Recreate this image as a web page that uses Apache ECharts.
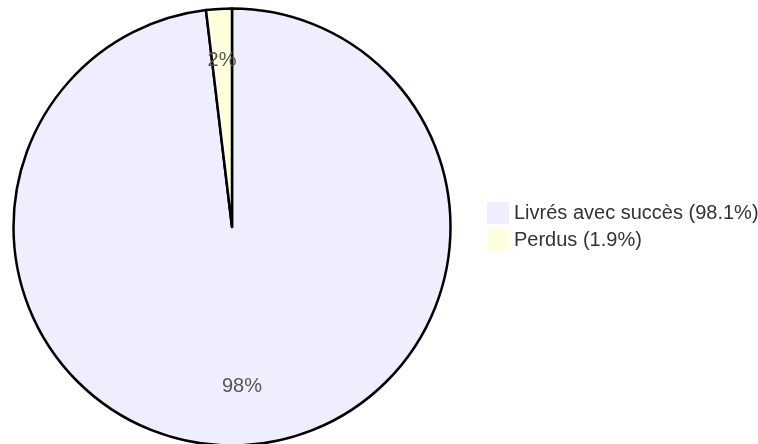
<!DOCTYPE html>
<html><head><meta charset="utf-8">
<script src="https://cdn.jsdelivr.net/npm/echarts@6/dist/echarts.min.js"></script>
<style>html,body{margin:0;padding:0;background:#fff}#c{width:758px;height:444px}</style>
</head><body><div id="c"></div>
<script>
const categories = ["Livrés avec succès", "Perdus"];
const values = [98.1, 1.9];
const colors = ["#eeeeff", "#ffffdd"];
const legendLabels = ["Livrés avec succès (98.1%)", "Perdus (1.9%)"];

const data = categories.map((n, i) => ({ name: n, value: values[i], itemStyle: { color: colors[i] } }));
const total = values.reduce((a, b) => a + b, 0);
const labelOffsets = [[0, -7], [0, 0]];
const chart = echarts.init(document.getElementById('c'), null, { renderer: 'canvas' });
chart.setOption({
  animation: false,
  legend: {
    orient: 'vertical', left: 482, top: 197,
    itemWidth: 22, itemHeight: 22, itemGap: 5,
    icon: 'rect',
    itemStyle: { borderWidth: 0 },
    textStyle: { fontFamily: 'Liberation Sans, Arial, sans-serif', fontSize: 20, color: '#333' },
    formatter: n => legendLabels[categories.indexOf(n)],
    data: categories
  },
  series: [
    {
      type: 'pie', center: [232, 227], radius: [0, 218.5], startAngle: 90, clockwise: true,
      label: { show: false }, labelLine: { show: false }, silent: true,
      itemStyle: { borderColor: '#000', borderWidth: 2.5 },
      data: data
    },
    {
      type: 'pie', center: [232, 227], radius: [109, 218], startAngle: 90, clockwise: true,
      silent: true, legendHoverLink: false,
      itemStyle: { color: 'rgba(0,0,0,0)', borderWidth: 0 },
      label: {
        show: true, position: 'inside',
        formatter: p => Math.round(p.value / total * 100) + '%',
        fontFamily: 'Liberation Sans, Arial, sans-serif', fontSize: 20, color: '#555'
      },
      labelLine: { show: false },
      data: categories.map((n, i) => ({ name: n + ' ', value: values[i], label: { offset: labelOffsets[i] } }))
    }
  ]
});
</script></body></html>
